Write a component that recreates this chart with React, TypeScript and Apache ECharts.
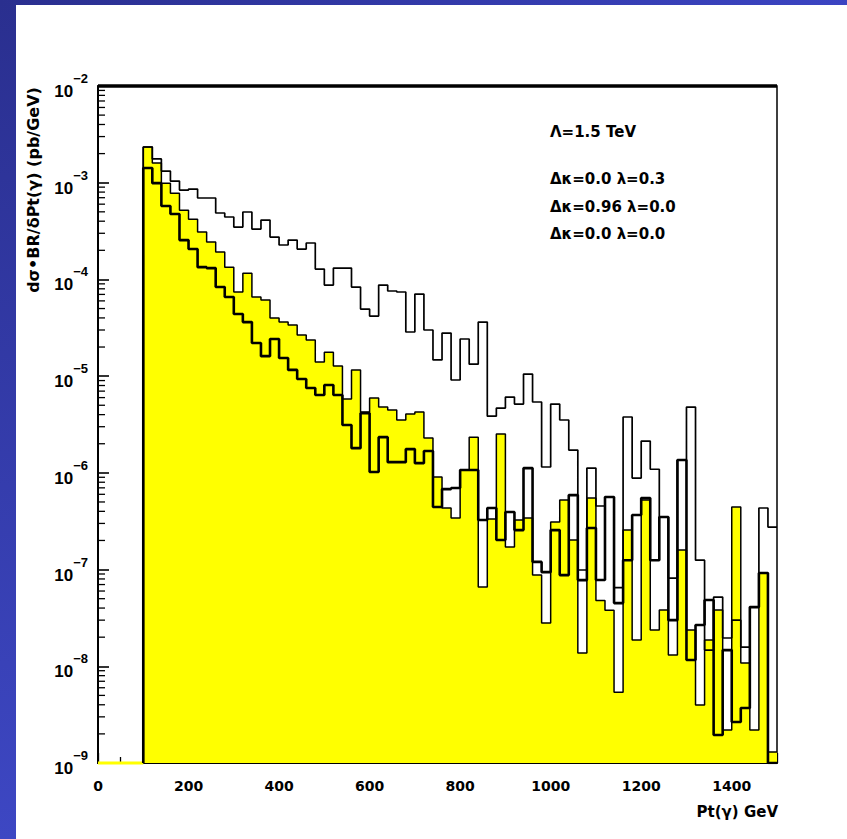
import React, { useEffect, useRef } from "react";
import * as echarts from "echarts";

// Low edge of each 20 GeV bin (GeV)
const BIN_LOW_GEV = [
  100, 120, 140, 160, 180, 200, 220, 240, 260, 280,
  300, 320, 340, 360, 380, 400, 420, 440, 460, 480,
  500, 520, 540, 560, 580, 600, 620, 640, 660, 680,
  700, 720, 740, 760, 780, 800, 820, 840, 860, 880,
  900, 920, 940, 960, 980, 1000, 1020, 1040, 1060, 1080,
  1100, 1120, 1140, 1160, 1180, 1200, 1220, 1240, 1260, 1280,
  1300, 1320, 1340, 1360, 1380, 1400, 1420, 1440, 1460, 1480,
];

// Δκ=0.0 λ=0.3 (thin outline)
const XS_LAMBDA03 = [
  2.34e-3, 1.76e-3, 1.32e-3, 1.04e-3, 8.4e-4, 8.6e-4, 6.95e-4, 6.95e-4, 4.86e-4, 4.42e-4,
  3.48e-4, 4.98e-4, 3.32e-4, 4.11e-4, 2.74e-4, 2.27e-4, 2.55e-4, 2.06e-4, 2.38e-4, 1.28e-4,
  8.75e-5, 1.31e-4, 1.31e-4, 8.34e-5, 4.94e-5, 4.18e-5, 8.75e-5, 7.59e-5, 7.41e-5, 2.86e-5,
  7.06e-5, 3.0e-5, 1.47e-5, 2.79e-5, 9.12e-6, 2.42e-5, 1.33e-5, 3.62e-5, 3.86e-6, 4.68e-6,
  6.08e-6, 5.14e-6, 1.05e-5, 5.4e-6, 1.15e-6, 5.14e-6, 3.52e-6, 1.72e-6, 9.9e-8, 1.12e-6,
  4.54e-7, 5.62e-7, 6.5e-8, 3.78e-6, 8.83e-7, 2.13e-6, 1.09e-6, 3.49e-7, 8.17e-8, 1.36e-6,
  4.79e-6, 1.25e-7, 1.47e-8, 5.2e-8, 1.96e-8, 3.0e-8, 1.58e-8, 4.09e-8, 4.33e-7, 2.75e-7,
];

// Δκ=0.96 λ=0.0 (yellow filled)
const XS_KAPPA096 = [
  2.34e-3, 1.6e-3, 9.9e-4, 7.8e-4, 5.2e-4, 4.2e-4, 3.1e-4, 2.44e-4, 1.92e-4, 1.34e-4,
  7.41e-5, 1.16e-4, 6.58e-5, 6.12e-5, 3.99e-5, 3.62e-5, 3.37e-5, 2.66e-5, 2.36e-5, 1.4e-5,
  1.77e-5, 1.27e-5, 5.79e-6, 1.16e-5, 4.26e-6, 5.94e-6, 4.79e-6, 4.46e-6, 3.52e-6, 4.06e-6,
  4.26e-6, 2.29e-6, 9.06e-7, 4.33e-7, 3.41e-7, 1.07e-6, 2.34e-6, 6.59e-8, 3.33e-7, 2.52e-6,
  1.71e-7, 3.25e-7, 3.41e-7, 8.8e-8, 2.8e-8, 3.1e-7, 5.24e-7, 2.02e-7, 1.37e-8, 5.48e-7,
  4.8e-8, 3.8e-8, 5.4e-9, 2.56e-7, 1.87e-8, 5.24e-7, 2.37e-8, 3.81e-8, 1.31e-8, 1.59e-7,
  2.37e-8, 3.97e-9, 1.87e-8, 3.81e-8, 2.19e-9, 4.43e-7, 1.08e-8, 2.19e-9, 9.2e-8, 1.3e-9,
];

// Δκ=0.0 λ=0.0 (thick outline)
const XS_SM = [
  1.42e-3, 9.9e-4, 5.74e-4, 4.74e-4, 2.55e-4, 2.06e-4, 1.34e-4, 1.31e-4, 8.34e-5, 6.58e-5,
  4.39e-5, 3.62e-5, 2.2e-5, 1.61e-5, 2.42e-5, 1.54e-5, 1.16e-5, 9.33e-6, 7.53e-6, 6.38e-6,
  8.09e-6, 6.38e-6, 3.12e-6, 1.8e-6, 4.15e-6, 1.02e-6, 2.34e-6, 1.29e-6, 1.29e-6, 1.76e-6,
  1.26e-6, 1.68e-6, 4.43e-7, 6.79e-7, 6.97e-7, 1.07e-6, 1.07e-6, 3.25e-7, 4.33e-7, 2.02e-7,
  3.94e-7, 2.56e-7, 1.12e-6, 1.2e-7, 9.4e-8, 2.56e-7, 8.77e-8, 5.89e-7, 7.78e-8, 2.69e-7,
  7.8e-8, 5.62e-7, 4.5e-8, 1.25e-7, 3.66e-7, 5.48e-7, 1.25e-7, 3.49e-7, 3.0e-8, 1.36e-6,
  1.16e-8, 2.67e-8, 4.84e-8, 1.95e-9, 1.47e-8, 2.65e-9, 3.7e-9, 4.09e-8, 9.2e-8, 1e-9,
];

const X_MIN = 0;
const X_MAX = 1500;
const X_INTERVAL = 200;
const Y_MIN = 1e-9;
const Y_MAX = 1e-2;
const Y_DECADES = [-9, -8, -7, -6, -5, -4, -3];
const MINOR_MANTISSAS = [2, 3, 4, 5, 6, 7, 8, 9];

const Y_TITLE = "dσ•BR/δPt(γ) (pb/GeV)";
const X_TITLE = "Pt(γ) GeV";
const LEGEND_LINES = ["Λ=1.5 TeV", "Δκ=0.0 λ=0.3", "Δκ=0.96 λ=0.0", "Δκ=0.0 λ=0.0"];

const FONT = "'DejaVu Sans', 'Liberation Sans', sans-serif";
const FONT_NUM = "'Liberation Sans', 'DejaVu Sans', sans-serif";

function stepPoints(values: number[]) {
  const pts: number[][] = [[BIN_LOW_GEV[0], Y_MIN]];
  values.forEach((v, i) => pts.push([BIN_LOW_GEV[i], v]));
  pts.push([X_MAX, values[values.length - 1]]);
  return pts;
}

export default function App() {
  const ref = useRef<HTMLDivElement>(null);

  useEffect(() => {
    document.body.style.margin = "0";
    document.body.style.overflow = "hidden";
    document.body.style.background = "#ffffff";
    if (!ref.current) return;
    const chart = echarts.init(ref.current, null, { renderer: "svg" });

    const minorTicks: number[][] = [];
    Y_DECADES.forEach((d) =>
      MINOR_MANTISSAS.forEach((m) => minorTicks.push([X_MIN, m * Math.pow(10, d)]))
    );

    const legendY = [132, 179, 207, 234];

    const option: any = {
      animation: false,
      backgroundColor: "transparent",
      grid: {
        left: 98,
        top: 86,
        width: 679,
        height: 677,
        show: true,
        borderColor: "#000",
        borderWidth: 1.5,
        backgroundColor: "transparent",
      },
      xAxis: {
        type: "value",
        min: X_MIN,
        max: X_MAX,
        interval: X_INTERVAL,
        axisLine: { show: true, onZero: false, lineStyle: { color: "#000", width: 2 } },
        axisTick: { show: true, inside: true, length: 10, lineStyle: { color: "#000", width: 1.3 } },
        minorTick: { show: true, splitNumber: 4, length: 6, lineStyle: { color: "#000", width: 1.3 } },
        splitLine: { show: false },
        axisLabel: {
          margin: 16,
          color: "#000",
          fontFamily: FONT,
          fontSize: 14,
          fontWeight: "bold",
          showMaxLabel: false,
          formatter: (v: number) => String(v),
        },
      },
      yAxis: {
        type: "log",
        logBase: 10,
        min: Y_MIN,
        max: Y_MAX,
        splitNumber: 7,
        axisLine: { show: true, lineStyle: { color: "#000", width: 2 } },
        axisTick: { show: true, inside: true, length: 11, lineStyle: { color: "#000", width: 1.6 } },
        minorTick: { show: false },
        splitLine: { show: false },
        axisLabel: {
          margin: 10,
          formatter: (v: number) => {
            const e = Math.round(Math.log10(v));
            return `{b|10}{e|−${Math.abs(e)}}`;
          },
          rich: {
            b: {
              fontFamily: FONT_NUM,
              fontSize: 17,
              fontWeight: "bold",
              color: "#000",
              lineHeight: 28,
              verticalAlign: "bottom",
            },
            e: {
              fontFamily: FONT_NUM,
              fontSize: 13,
              fontWeight: "bold",
              color: "#000",
              lineHeight: 13,
              verticalAlign: "top",
            },
          },
        },
      },
      graphic: [
        {
          type: "text",
          x: 33,
          y: 190,
          rotation: Math.PI / 2,
          style: {
            text: Y_TITLE,
            fill: "#000",
            font: `bold 16px ${FONT}`,
            textAlign: "center",
            textVerticalAlign: "middle",
            align: "center",
            verticalAlign: "middle",
          },
        },
        {
          type: "text",
          x: 778,
          y: 812,
          style: {
            text: X_TITLE,
            fill: "#000",
            font: `bold 15px ${FONT}`,
            textAlign: "right",
            textVerticalAlign: "middle",
            align: "right",
            verticalAlign: "middle",
          },
        },
        ...LEGEND_LINES.map((t, i) => ({
          type: "text",
          x: 550,
          y: legendY[i],
          style: {
            text: t,
            fill: "#000",
            font: `bold 15px ${FONT}`,
            textAlign: "left",
            textVerticalAlign: "middle",
            align: "left",
            verticalAlign: "middle",
          },
        })),
      ],
      series: [
        {
          type: "custom",
          name: "minorTicks",
          z: 1,
          silent: true,
          data: minorTicks,
          renderItem: (params: any, api: any) => {
            const p = api.coord([api.value(0), api.value(1)]);
            return {
              type: "line",
              shape: { x1: p[0], y1: p[1], x2: p[0] + 7, y2: p[1] },
              style: { stroke: "#000", lineWidth: 1.3 },
            };
          },
        },
        {
          type: "line",
          name: "floor",
          data: [
            [X_MIN, Y_MIN],
            [BIN_LOW_GEV[0], Y_MIN],
          ],
          symbol: "none",
          silent: true,
          clip: false,
          z: 3,
          lineStyle: { color: "#ffff00", width: 3 },
        },
        {
          type: "line",
          name: "Δκ=0.96 λ=0.0",
          step: "end",
          data: stepPoints(XS_KAPPA096),
          symbol: "none",
          z: 2,
          lineStyle: { color: "#000", width: 1.5 },
          areaStyle: { color: "#ffff00", opacity: 1, origin: "start" },
        },
        {
          type: "line",
          name: "Δκ=0.0 λ=0.3",
          step: "end",
          data: stepPoints(XS_LAMBDA03),
          symbol: "none",
          z: 3,
          lineStyle: { color: "#000", width: 1.7 },
        },
        {
          type: "line",
          name: "Δκ=0.0 λ=0.0",
          step: "end",
          data: stepPoints(XS_SM),
          symbol: "none",
          z: 4,
          lineStyle: { color: "#000", width: 2.6 },
        },
        {
          type: "line",
          name: "frameTop",
          data: [
            [X_MIN, Y_MAX],
            [X_MAX, Y_MAX],
          ],
          symbol: "none",
          silent: true,
          clip: false,
          z: 5,
          lineStyle: { color: "#000", width: 3.5 },
        },
      ],
    };

    chart.setOption(option);
    return () => chart.dispose();
  }, []);

  return (
    <div style={{ position: "fixed", left: 0, top: 0, width: 847, height: 839, background: "#ffffff", overflow: "hidden" }}>
      <div ref={ref} style={{ position: "absolute", left: 0, top: 0, width: 847, height: 839 }} />
      <div
        style={{
          position: "absolute",
          left: 0,
          top: 0,
          width: 16,
          height: 839,
          background: "linear-gradient(to bottom, #2a2f8f, #3d47c3)",
        }}
      />
      <div
        style={{
          position: "absolute",
          left: 0,
          top: 0,
          width: 847,
          height: 5,
          background: "linear-gradient(to right, #2a2f8f, #3b44c2)",
        }}
      />
    </div>
  );
}
